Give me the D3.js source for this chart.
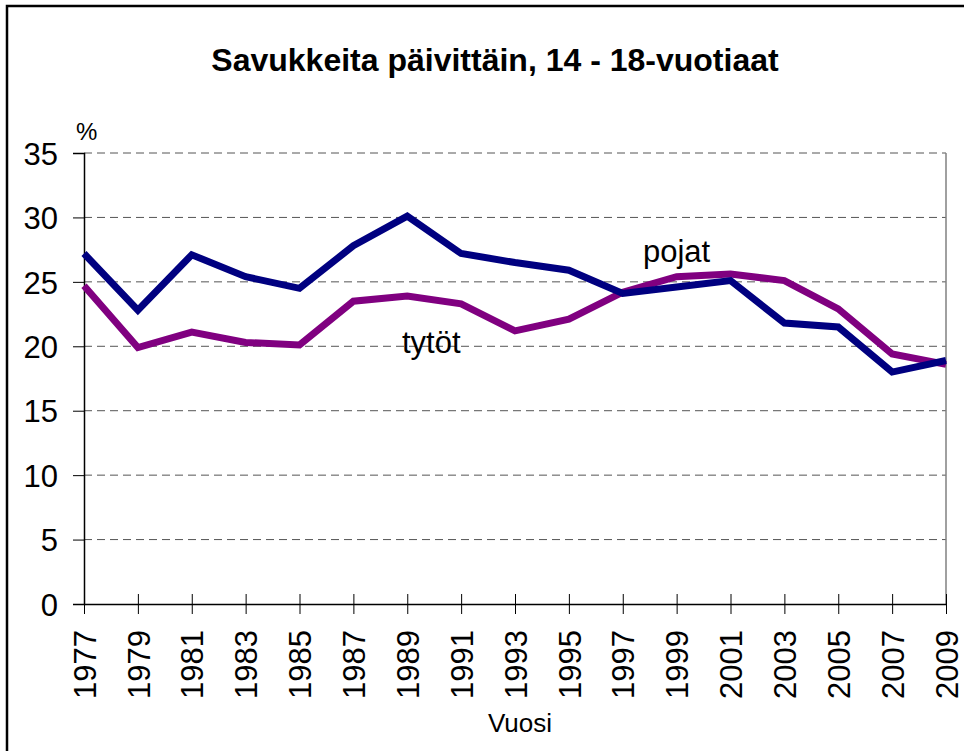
<!DOCTYPE html>
<html>
<head>
<meta charset="utf-8">
<script src="https://cdn.jsdelivr.net/npm/d3@7"></script>
<style>
  body { margin: 0; background: #fff; }
  text { font-family: "Liberation Sans", Arial, sans-serif; fill: #000; }
</style>
</head>
<body>
<script>
// years on the x axis
var years = [1977, 1979, 1981, 1983, 1985, 1987, 1989, 1991, 1993,
             1995, 1997, 1999, 2001, 2003, 2005, 2007, 2009];

// daily smokers, %, boys
var pojat = [27.2, 22.8, 27.1, 25.4, 24.5, 27.8, 30.1, 27.2, 26.5,
             25.9, 24.1, 24.6, 25.1, 21.8, 21.5, 18.0, 18.9];

// daily smokers, %, girls
var tytot = [24.7, 19.9, 21.1, 20.3, 20.1, 23.5, 23.9, 23.3, 21.2,
             22.1, 24.2, 25.4, 25.6, 25.1, 22.9, 19.4, 18.6];

var yTicks = [0, 5, 10, 15, 20, 25, 30, 35];

var margin = {top: 153, right: 27, bottom: 147, left: 84},
    width = 973 - margin.left - margin.right,
    height = 751 - margin.top - margin.bottom;

var svg = d3.select("body").append("svg")
    .attr("width", 973)
    .attr("height", 751);

// outer chart border (only top and left are visible)
svg.append("path")
    .attr("d", "M7,800V6H964")
    .attr("fill", "none")
    .attr("stroke", "#000")
    .attr("stroke-width", 2.5);

svg.append("text")
    .attr("x", 495)
    .attr("y", 71)
    .attr("text-anchor", "middle")
    .style("font-size", "32px")
    .style("font-weight", "bold")
    .text("Savukkeita päivittäin, 14 - 18-vuotiaat");

var g = svg.append("g")
    .attr("transform", "translate(" + margin.left + "," + margin.top + ")");

var x = d3.scalePoint()
    .domain(years)
    .range([0, width]);
var y = d3.scaleLinear()
    .domain([0, 35])
    .range([height, 0]);

// dashed gridlines
g.selectAll(".grid")
    .data(yTicks.filter(function(d){ return d > 0; }))
    .enter().append("line")
    .attr("class", "grid")
    .attr("x1", 0)
    .attr("x2", width)
    .attr("y1", function(d){ return y(d); })
    .attr("y2", function(d){ return y(d); })
    .attr("stroke", "#555")
    .attr("stroke-width", 1)
    .attr("stroke-dasharray", "8,5");

// right edge of plot area
g.append("line")
    .attr("x1", width).attr("x2", width)
    .attr("y1", 0).attr("y2", height)
    .attr("stroke", "#808080")
    .attr("stroke-width", 1.5);

// y axis
var yAxis = g.append("g")
    .call(d3.axisLeft(y).tickValues(yTicks).tickSize(11).tickPadding(15));
yAxis.select(".domain").attr("stroke", "#000").attr("stroke-width", 1.5);
yAxis.selectAll("text")
    .style("font-size", "31px")
    .style("font-family", "'Liberation Sans', Arial, sans-serif")
    .attr("dy", "0.36em");

// x axis, ticks cross the line
var xAxis = g.append("g")
    .attr("transform", "translate(0," + height + ")")
    .call(d3.axisBottom(x).tickSize(10).tickSizeOuter(0).tickPadding(10));
xAxis.select(".domain").attr("stroke", "#000").attr("stroke-width", 1.5);
xAxis.selectAll(".tick line").attr("y1", -10).attr("y2", 10);
xAxis.selectAll("text")
    .style("font-size", "31px")
    .style("font-family", "'Liberation Sans', Arial, sans-serif")
    .attr("text-anchor", "end")
    .attr("transform", "rotate(-90)")
    .attr("x", -26)
    .attr("y", 0)
    .attr("dy", "0.36em");

var line = d3.line()
    .x(function(d, i){ return x(years[i]); })
    .y(function(d){ return y(d); });

g.append("path")
    .datum(tytot)
    .attr("fill", "none")
    .attr("stroke", "#800080")
    .attr("stroke-width", 7)
    .attr("d", line);

g.append("path")
    .datum(pojat)
    .attr("fill", "none")
    .attr("stroke", "#000080")
    .attr("stroke-width", 7)
    .attr("d", line);

// % unit label
svg.append("text")
    .attr("x", 76)
    .attr("y", 140)
    .style("font-size", "24px")
    .text("%");

// series labels
svg.append("text")
    .attr("x", 643)
    .attr("y", 262)
    .style("font-size", "31px")
    .text("pojat");

svg.append("text")
    .attr("x", 402)
    .attr("y", 353)
    .style("font-size", "31px")
    .text("tytöt");

// x axis title
svg.append("text")
    .attr("x", 520)
    .attr("y", 732)
    .attr("text-anchor", "middle")
    .style("font-size", "26px")
    .text("Vuosi");
</script>
</body>
</html>
